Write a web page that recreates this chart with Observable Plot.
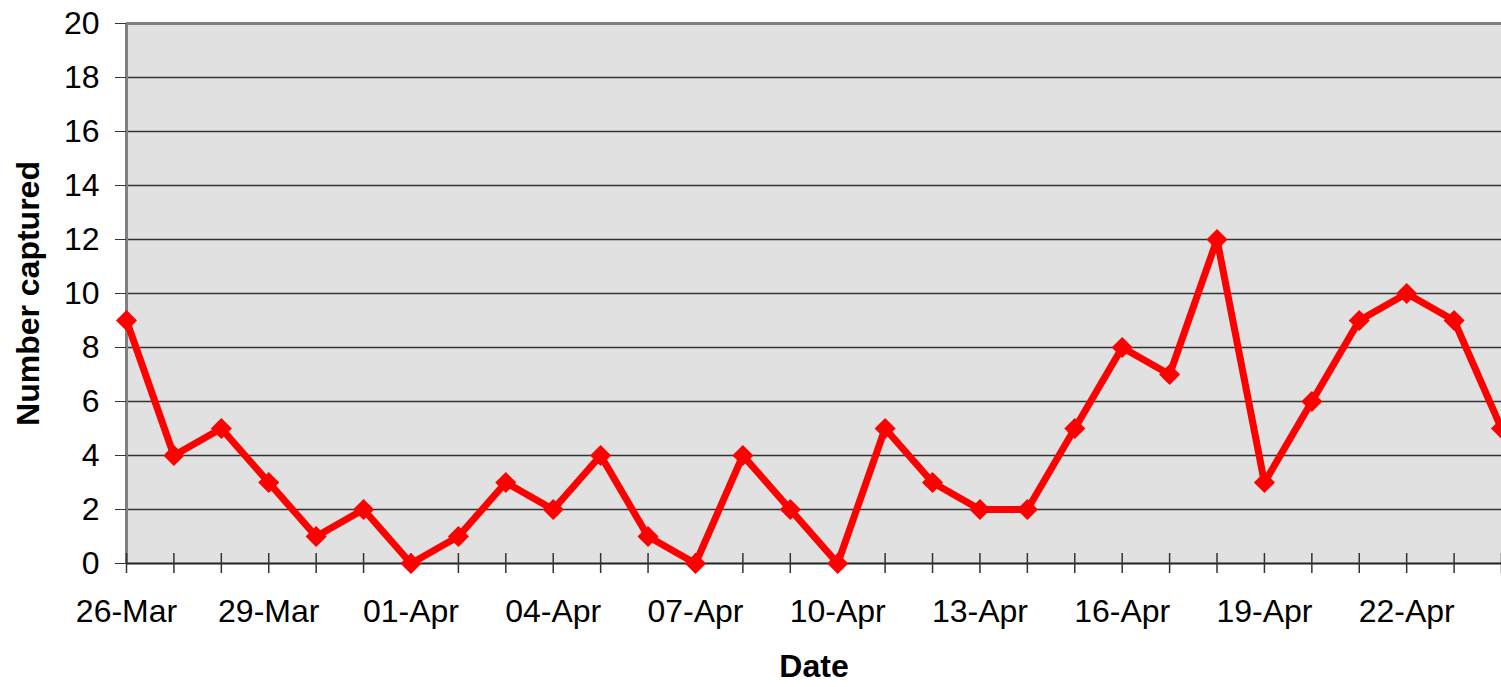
<!DOCTYPE html>
<html>
<head>
<meta charset="utf-8">
<script src="https://cdn.jsdelivr.net/npm/d3@7"></script>
<script src="https://cdn.jsdelivr.net/npm/@observablehq/plot@0.6"></script>
<style>
  html, body { margin: 0; padding: 0; background: #fff; }
  #chart svg { display: block; }
</style>
</head>
<body>
<div id="chart"></div>
<script>
const dates = [
  "2007-03-26","2007-03-27","2007-03-28","2007-03-29","2007-03-30","2007-03-31",
  "2007-04-01","2007-04-02","2007-04-03","2007-04-04","2007-04-05","2007-04-06",
  "2007-04-07","2007-04-08","2007-04-09","2007-04-10","2007-04-11","2007-04-12",
  "2007-04-13","2007-04-14","2007-04-15","2007-04-16","2007-04-17","2007-04-18",
  "2007-04-19","2007-04-20","2007-04-21","2007-04-22","2007-04-23","2007-04-24"
];
const counts = [9,4,5,3,1,2,0,1,3,2,4,1,0,4,2,0,5,3,2,2,5,8,7,12,3,6,9,10,9,5];
const yTicks = [0,2,4,6,8,10,12,14,16,18,20];
const gridValues = [2,4,6,8,10,12,14,16,18];
const labelDates = ["2007-03-26","2007-03-29","2007-04-01","2007-04-04","2007-04-07","2007-04-10","2007-04-13","2007-04-16","2007-04-19","2007-04-22"];
const yTitle = "Number captured";
const xTitle = "Date";

const parse = d3.utcParse("%Y-%m-%d");
const data = dates.map((d, i) => ({date: parse(d), count: counts[i]}));
const dayTicks = dates.map(parse);
const labelTicks = labelDates.map(parse);
const fmt = d3.utcFormat("%d-%b");

const chart = Plot.plot({
  width: 1501,
  height: 687,
  marginLeft: 126,
  marginRight: 0,
  marginTop: 23,
  marginBottom: 124,
  style: {fontFamily: "'Liberation Sans', Arial, sans-serif", fontSize: "32px", color: "#000", background: "#fff"},
  x: {type: "utc", domain: [dayTicks[0], dayTicks[dayTicks.length - 1]]},
  y: {domain: [0, 20]},
  marks: [
    Plot.frame({fill: "#e1e1e1", stroke: null}),
    Plot.ruleY(gridValues, {stroke: "#333", strokeWidth: 1.3}),
    Plot.ruleY([20], {stroke: "#808080", strokeWidth: 3}),
    Plot.ruleX([dayTicks[0]], {stroke: "#808080", strokeWidth: 3}),
    Plot.ruleY([0], {stroke: "#222", strokeWidth: 2}),
    Plot.ruleX(dayTicks, {y1: 0, y2: 0, insetTop: -10, insetBottom: -10, stroke: "#333", strokeWidth: 1.5}),
    Plot.axisY({ticks: yTicks, tickSize: 11, tickPadding: 16, label: null, stroke: "#333", fontSize: 32}),
    Plot.axisX({ticks: labelTicks, tickSize: 0, tickPadding: 36, tickFormat: fmt, label: null, fontSize: 32}),
    Plot.lineY(data, {x: "date", y: "count", stroke: "#ff0000", strokeWidth: 7}),
    Plot.dot(data, {x: "date", y: "count", symbol: "diamond2", r: 9.5, fill: "#ff0000", stroke: "none"}),
    Plot.text([yTitle], {text: d => d, frameAnchor: "left", textAnchor: "middle", rotate: -90, dx: -98, fontWeight: "bold", fontSize: 32}),
    Plot.text([xTitle], {text: d => d, frameAnchor: "bottom", dy: 113, fontWeight: "bold", fontSize: 32})
  ]
});
document.getElementById("chart").appendChild(chart);
</script>
</body>
</html>
